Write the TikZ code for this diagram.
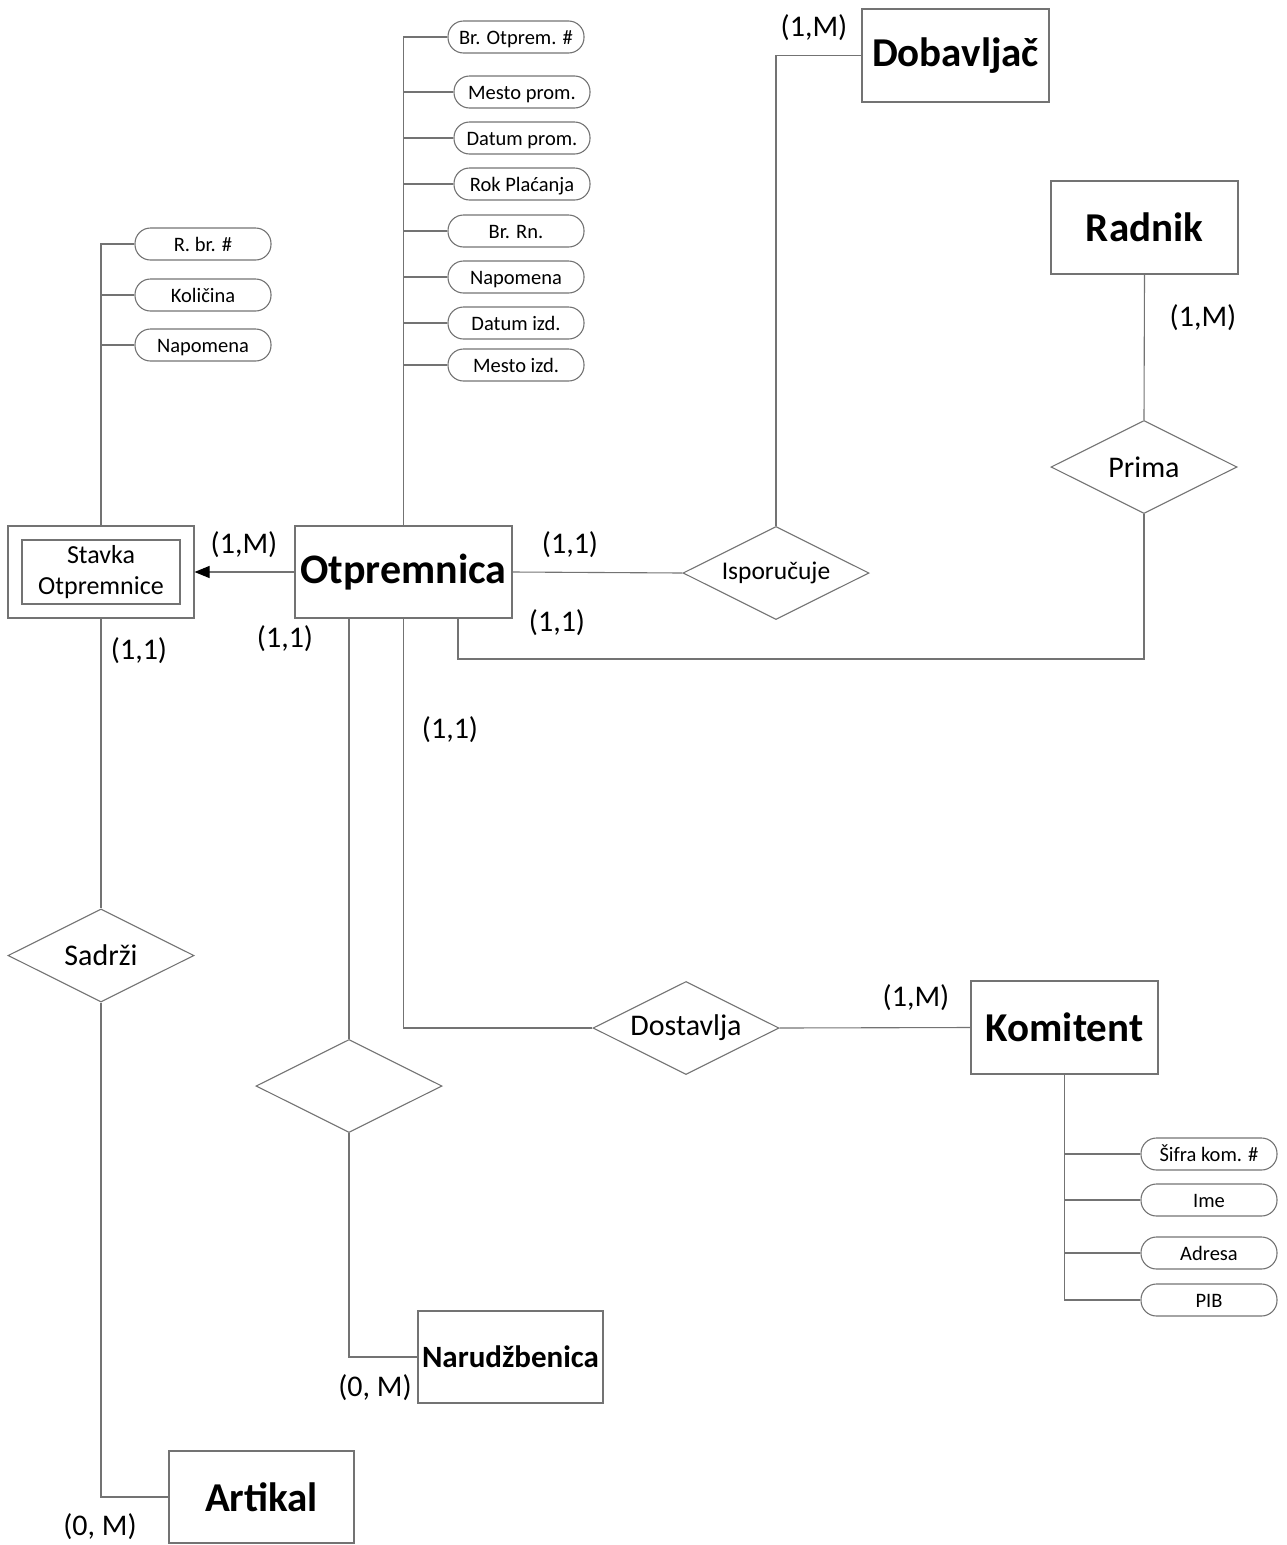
\documentclass[tikz,border=0pt]{standalone}
\usepackage{fontspec}
\setmainfont{Carlito}
\usetikzlibrary{shapes.geometric,arrows.meta}
\tikzset{
  ln/.style={draw=black!55, line width=1.1pt},
  entity/.style={ln, rectangle, minimum width=187pt, minimum height=93pt, inner sep=0pt, font=\fontsize{41}{46}\selectfont\bfseries},
  rel/.style={ln, diamond, aspect=2, minimum width=186pt, minimum height=93pt, inner sep=0pt, font=\fontsize{30}{34}\selectfont},
  attr/.style={ln, rectangle, rounded corners=15.5pt, minimum width=136pt, minimum height=32pt, inner sep=0pt, text height=15pt, text depth=1pt, font=\fontsize{20.5}{24}\selectfont},
  card/.style={font=\fontsize{30}{34}\selectfont, inner sep=0pt},
}
\begin{document}
\begin{tikzpicture}[x=1pt,y=-1pt]
\useasboundingbox (0,0) rectangle (1287,1545);
% entities
\node[entity, minimum width=217pt, minimum height=92pt, font=\fontsize{42}{46}\selectfont\bfseries] (otp) at (403.5,572) {\raisebox{-3pt}{Otpremnica}};
\node[entity] (dob) at (955.5,55.5) {Dobavljač};
\node[entity] (rad) at (1144.5,227.5) {\raisebox{-2pt}{Radnik}};
\node[entity] (kom) at (1064.5,1027.5) {\raisebox{-2pt}{Komitent}};
\node[entity, minimum width=185pt, minimum height=92pt, font=\fontsize{31}{34}\selectfont\bfseries] (nar) at (510.5,1357) {Narudžbenica};
\node[entity, minimum width=185pt, minimum height=92pt] (art) at (261.5,1497) {\raisebox{-2pt}{Artikal}};
% weak entity
\node[ln, rectangle, minimum width=186pt, minimum height=92pt, inner sep=0pt] (stv) at (101,572) {};
\node[ln, rectangle, minimum width=158pt, minimum height=64pt, inner sep=0pt, align=center, font=\fontsize{26}{31}\selectfont] (stvin) at (101,572) {Stavka\\Otpremnice};
% relationships
\node[rel, font=\fontsize{25.5}{30}\selectfont] (isp) at (776,573) {Isporučuje};
\node[rel] (pri) at (1144,467) {Prima};
\node[rel] (dos) at (686,1028) {Dostavlja};
\node[rel] (nn) at (349,1086) {};
\node[rel] (sad) at (101,955.5) {Sadrži};
% attributes of Otpremnica
\node[attr] (o1) at (516,37) {Br. Otprem. \#};
\node[attr] (o2) at (522,92) {Mesto prom.};
\node[attr] (o3) at (522,138) {Datum prom.};
\node[attr] (o4) at (522,184) {Rok Plaćanja};
\node[attr] (o5) at (516,231) {Br. Rn.};
\node[attr] (o6) at (516,277) {Napomena};
\node[attr] (o7) at (516,323) {Datum izd.};
\node[attr] (o8) at (516,365) {Mesto izd.};
\draw[ln] (otp.north) -- (otp.north |- o1) -- (o1.west);
\foreach \a in {o2,o3,o4,o5,o6,o7,o8} \draw[ln] (otp.north |- \a) -- (\a.west);
% attributes of Stavka
\node[attr] (s1) at (203,244) {R. br. \#};
\node[attr] (s2) at (203,295) {Količina};
\node[attr] (s3) at (203,345) {Napomena};
\draw[ln] (stv.north) -- (stv.north |- s1) -- (s1.west);
\foreach \a in {s2,s3} \draw[ln] (stv.north |- \a) -- (\a.west);
% attributes of Komitent
\node[attr] (k1) at (1209,1154) {Šifra kom. \#};
\node[attr] (k2) at (1209,1200) {Ime};
\node[attr] (k3) at (1209,1253) {Adresa};
\node[attr] (k4) at (1209,1300) {PIB};
\draw[ln] (kom.south) -- (kom.south |- k4) -- (k4.west);
\foreach \a in {k1,k2,k3} \draw[ln] (kom.south |- \a) -- (\a.west);
% connectors
\draw[ln, -{Triangle[length=15pt,width=12pt,fill=black,color=black]}] (otp.west) -- (stv.east);
\draw[ln] (otp.east) -- (isp.west);
\draw[ln] (isp.north) |- (dob.west);
\draw[ln] (rad.south) -- (pri.north);
\coordinate (pb) at (458,659);
\draw[ln] (pri.south) |- (pb) -- (pb |- otp.south);
\draw[ln] (otp.south) |- (dos.west);
\draw[ln] (dos.east) -- (kom.west);
\draw[ln] (otp.south -| nn.north) -- (nn.north);
\draw[ln] (nn.south) |- (nar.west);
\draw[ln] (stv.south) -- (sad.north);
\draw[ln] (sad.south) |- (art.west);
% cardinalities
\node[card] (c1) at (244,545) {(1,M)};
\node[card] (c2) at (285,639) {(1,1)};
\node[card] (c3) at (139,651) {(1,1)};
\node[card] (c4) at (570,545) {(1,1)};
\node[card] (c5) at (557,623) {(1,1)};
\node[card] (c6) at (814,28) {(1,M)};
\node[card] (c7) at (1203,318) {(1,M)};
\node[card] (c8) at (450,730) {(1,1)};
\node[card] (c9) at (916,998) {(1,M)};
\node[card] (c10) at (375,1388) {(0, M)};
\node[card] (c11) at (100,1527) {(0, M)};
\end{tikzpicture}
\end{document}
